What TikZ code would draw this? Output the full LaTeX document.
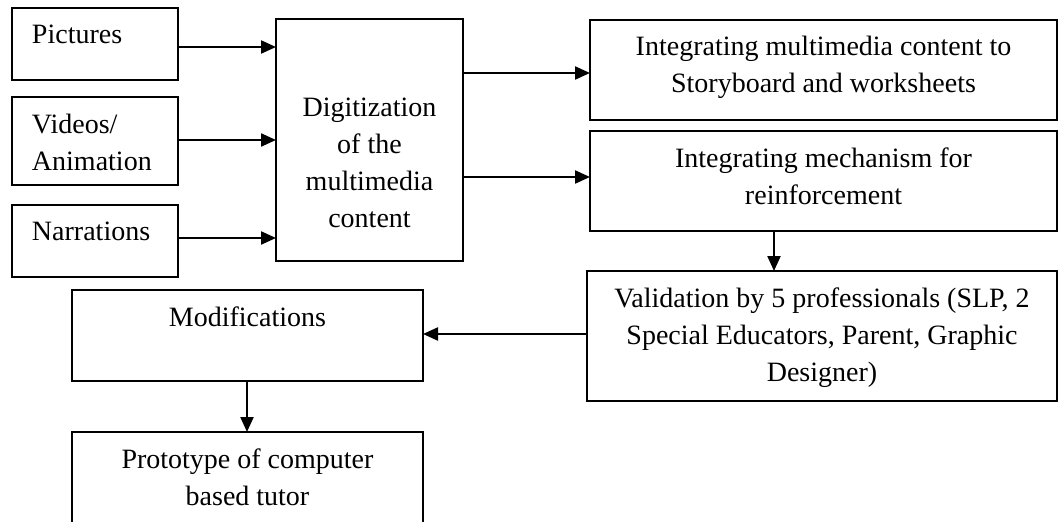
\documentclass[tikz,border=0pt]{standalone}
\usepackage{fontspec}
\setmainfont{Liberation Serif}
\usetikzlibrary{arrows.meta}
\newcommand\ctxt[4]{\parbox[c][#2][t]{#1}{\centering\rule{0pt}{#3}#4\par}}
\newcommand\ltxt[4]{\parbox[c][#2][t]{#1}{\raggedright\leftskip=20pt\rule{0pt}{#3}#4\par}}
\begin{document}
\begin{tikzpicture}[x=1pt,y=1pt,
  bx/.style={draw=black, line width=2.2pt, inner sep=0pt, outer sep=0pt, rectangle,
    font=\fontsize{28}{37}\selectfont},
  arr/.style={line width=2.2pt, -{Triangle[length=15pt,width=13pt]}}]
\useasboundingbox (0,0) rectangle (1058,-522);
\node[bx, minimum width=166pt, minimum height=72pt] (pic) at (95,-44) {\ltxt{166pt}{72pt}{35pt}{Pictures}};
\node[bx, minimum width=166pt, minimum height=88pt] (vid) at (95,-141) {\ltxt{166pt}{88pt}{36pt}{Videos/\\Animation}};
\node[bx, minimum width=166pt, minimum height=72pt] (nar) at (95,-241) {\ltxt{166pt}{72pt}{35pt}{Narrations}};
\node[bx, minimum width=187pt, minimum height=242pt] (dig) at (369.5,-140) {\ctxt{187pt}{242pt}{97pt}{Digitization\\of the\\multimedia\\content}};
\node[bx, minimum width=467pt, minimum height=100pt] (im) at (823.5,-70) {\ctxt{467pt}{100pt}{35pt}{Integrating multimedia content to\\Storyboard and worksheets}};
\node[bx, minimum width=467pt, minimum height=100pt] (mech) at (823.5,-181) {\ctxt{467pt}{100pt}{36pt}{Integrating mechanism for\\reinforcement}};
\node[bx, minimum width=470pt, minimum height=130pt] (val) at (822,-336) {\ctxt{470pt}{130pt}{36pt}{Validation by 5 professionals (SLP, 2\\Special Educators, Parent, Graphic\\Designer)}};
\node[bx, minimum width=351pt, minimum height=91pt] (mod) at (247.5,-335.5) {\ctxt{351pt}{91pt}{36pt}{Modifications}};
\node[bx, minimum width=351pt, minimum height=113pt] (proto) at (247.5,-488.5) {\ctxt{351pt}{113pt}{36pt}{Prototype of computer\\based tutor}};
\draw[arr] (pic.east |- 0,-47) -- (dig.west |- 0,-47);
\draw[arr] (vid.east |- 0,-140) -- (dig.west |- 0,-140);
\draw[arr] (nar.east |- 0,-238) -- (dig.west |- 0,-238);
\draw[arr] (dig.east |- 0,-73) -- (im.west |- 0,-73);
\draw[arr] (dig.east |- 0,-177) -- (mech.west |- 0,-177);
\draw[arr] (mech.south -| 774,0) -- (val.north -| 774,0);
\draw[arr] (val.west |- 0,-334) -- (mod.east |- 0,-334);
\draw[arr] (mod.south -| 247,0) -- (proto.north -| 247,0);
\end{tikzpicture}
\end{document}
